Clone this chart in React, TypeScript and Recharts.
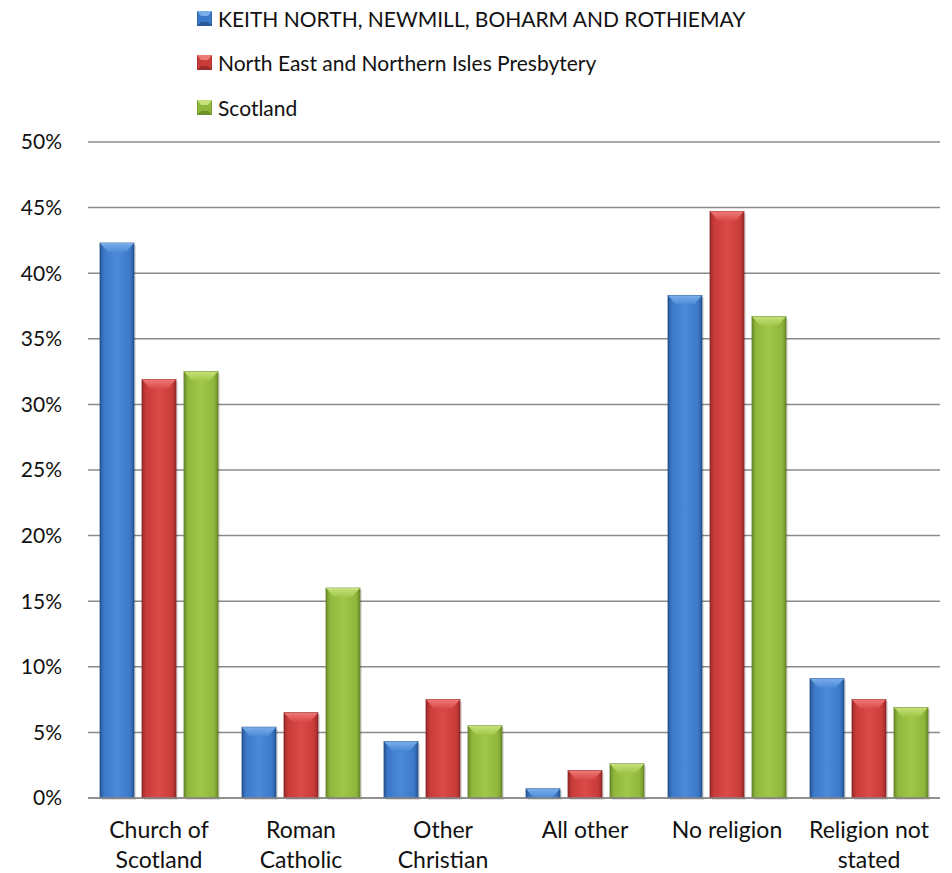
import { BarChart, Bar, XAxis, YAxis, CartesianGrid, Legend } from "recharts";

const categories = [
  "Church of\nScotland",
  "Roman\nCatholic",
  "Other\nChristian",
  "All other",
  "No religion",
  "Religion not\nstated",
];
const seriesNames = [
  "KEITH NORTH, NEWMILL, BOHARM AND ROTHIEMAY",
  "North East and Northern Isles Presbytery",
  "Scotland",
];
const keith = [42.3, 5.4, 4.3, 0.7, 38.3, 9.1];
const presbytery = [31.9, 6.5, 7.5, 2.1, 44.7, 7.5];
const scotland = [32.5, 16.0, 5.5, 2.6, 36.7, 6.9];
const yTicks = [0, 5, 10, 15, 20, 25, 30, 35, 40, 45, 50];

const data = categories.map((c, i) => ({
  cat: c,
  keith: keith[i],
  presbytery: presbytery[i],
  scotland: scotland[i],
}));

const tones = [
  { id: "blue", dark: "#2a5896", mid: "#3b79c9", light: "#4c8ad8", top: "#7aaeea", edge: "#244d85" },
  { id: "red", dark: "#9a2c2a", mid: "#c93c3a", light: "#d94a48", top: "#ee7a78", edge: "#862523" },
  { id: "green", dark: "#6f8f2b", mid: "#8fb73c", light: "#a0c748", top: "#c6e27a", edge: "#5e7a22" },
];

const FONT = "Lato, 'Open Sans', sans-serif";

function BevelBar(props: any) {
  const { x, y, width, height, tone } = props;
  if (!height || height <= 0) return null;
  const b = Math.min(9, height);
  const ins = Math.min(8, width / 4);
  return (
    <g>
      <rect x={x + 2} y={y + 2} width={width} height={height} fill="rgba(0,0,0,0.12)" />
      <rect x={x} y={y} width={width} height={height} fill={`url(#grad-${tone.id})`} stroke={tone.edge} strokeWidth={0.8} />
      <polygon
        points={`${x},${y} ${x + width},${y} ${x + width - ins},${y + b} ${x + ins},${y + b}`}
        fill={`url(#top-${tone.id})`}
      />
    </g>
  );
}

function CategoryTick(props: any) {
  const { x, y, payload } = props;
  const lines = String(payload.value).split("\n");
  return (
    <text x={x} y={y} textAnchor="middle" fill="#111" fontFamily={FONT} fontSize={23}>
      {lines.map((l, i) => (
        <tspan key={i} x={x} y={y + 40 + i * 30}>
          {l}
        </tspan>
      ))}
    </text>
  );
}

function LegendSwatch({ tone }: { tone: (typeof tones)[number] }) {
  return (
    <svg width={15} height={15} style={{ display: "block" }}>
      <rect x={0} y={0} width={15} height={15} fill={tone.mid} stroke={tone.edge} strokeWidth={0.8} />
      <polygon points="0,0 15,0 11,5 4,5" fill={tone.top} />
      <polygon points="0,15 15,15 11,11 4,11" fill={tone.dark} />
    </svg>
  );
}

function renderLegend() {
  return (
    <div style={{ fontFamily: FONT, fontSize: 21, color: "#111" }}>
      {seriesNames.map((name, i) => (
        <div key={name} style={{ height: 44.5, display: "flex", alignItems: "center" }}>
          <LegendSwatch tone={tones[i]} />
          <span style={{ marginLeft: 6 }}>{name}</span>
        </div>
      ))}
    </div>
  );
}

export default function App() {
  return (
    <div style={{ position: "absolute", left: 0, top: 0, background: "#fff" }}>
      <BarChart
        width={952}
        height={873}
        data={data}
        margin={{ top: 12, right: 12, left: 0, bottom: 0 }}
        barCategoryGap={12}
        barGap={8}
      >
        <defs>
          {tones.map((t) => (
            <linearGradient key={t.id} id={`grad-${t.id}`} x1="0" y1="0" x2="1" y2="0">
              <stop offset="0%" stopColor={t.dark} />
              <stop offset="12%" stopColor={t.mid} />
              <stop offset="50%" stopColor={t.light} />
              <stop offset="88%" stopColor={t.mid} />
              <stop offset="100%" stopColor={t.dark} />
            </linearGradient>
          ))}
          {tones.map((t) => (
            <linearGradient key={`top-${t.id}`} id={`top-${t.id}`} x1="0" y1="0" x2="0" y2="1">
              <stop offset="0%" stopColor={t.top} />
              <stop offset="100%" stopColor={t.light} />
            </linearGradient>
          ))}
        </defs>
        <CartesianGrid vertical={false} stroke="#8a8a8a" strokeWidth={1.5} />
        <XAxis
          dataKey="cat"
          interval={0}
          height={75}
          tickSize={0}
          tickMargin={0}
          tickLine={false}
          axisLine={{ stroke: "#8a8a8a", strokeWidth: 1.5 }}
          tick={<CategoryTick />}
        />
        <YAxis
          width={88}
          domain={[0, 50]}
          ticks={yTicks}
          interval={0}
          tickSize={0}
          tickMargin={26}
          axisLine={false}
          tickLine={false}
          tickFormatter={(v: number) => `${v}%`}
          tick={{ fill: "#111", fontSize: 21, fontFamily: FONT }}
        />
        <Legend
          verticalAlign="top"
          align="left"
          content={renderLegend}
          wrapperStyle={{ top: -4, left: 197, width: 650, height: 130 }}
        />
        <Bar dataKey="keith" name={seriesNames[0]} isAnimationActive={false} shape={(p: any) => <BevelBar {...p} tone={tones[0]} />} />
        <Bar dataKey="presbytery" name={seriesNames[1]} isAnimationActive={false} shape={(p: any) => <BevelBar {...p} tone={tones[1]} />} />
        <Bar dataKey="scotland" name={seriesNames[2]} isAnimationActive={false} shape={(p: any) => <BevelBar {...p} tone={tones[2]} />} />
      </BarChart>
    </div>
  );
}
